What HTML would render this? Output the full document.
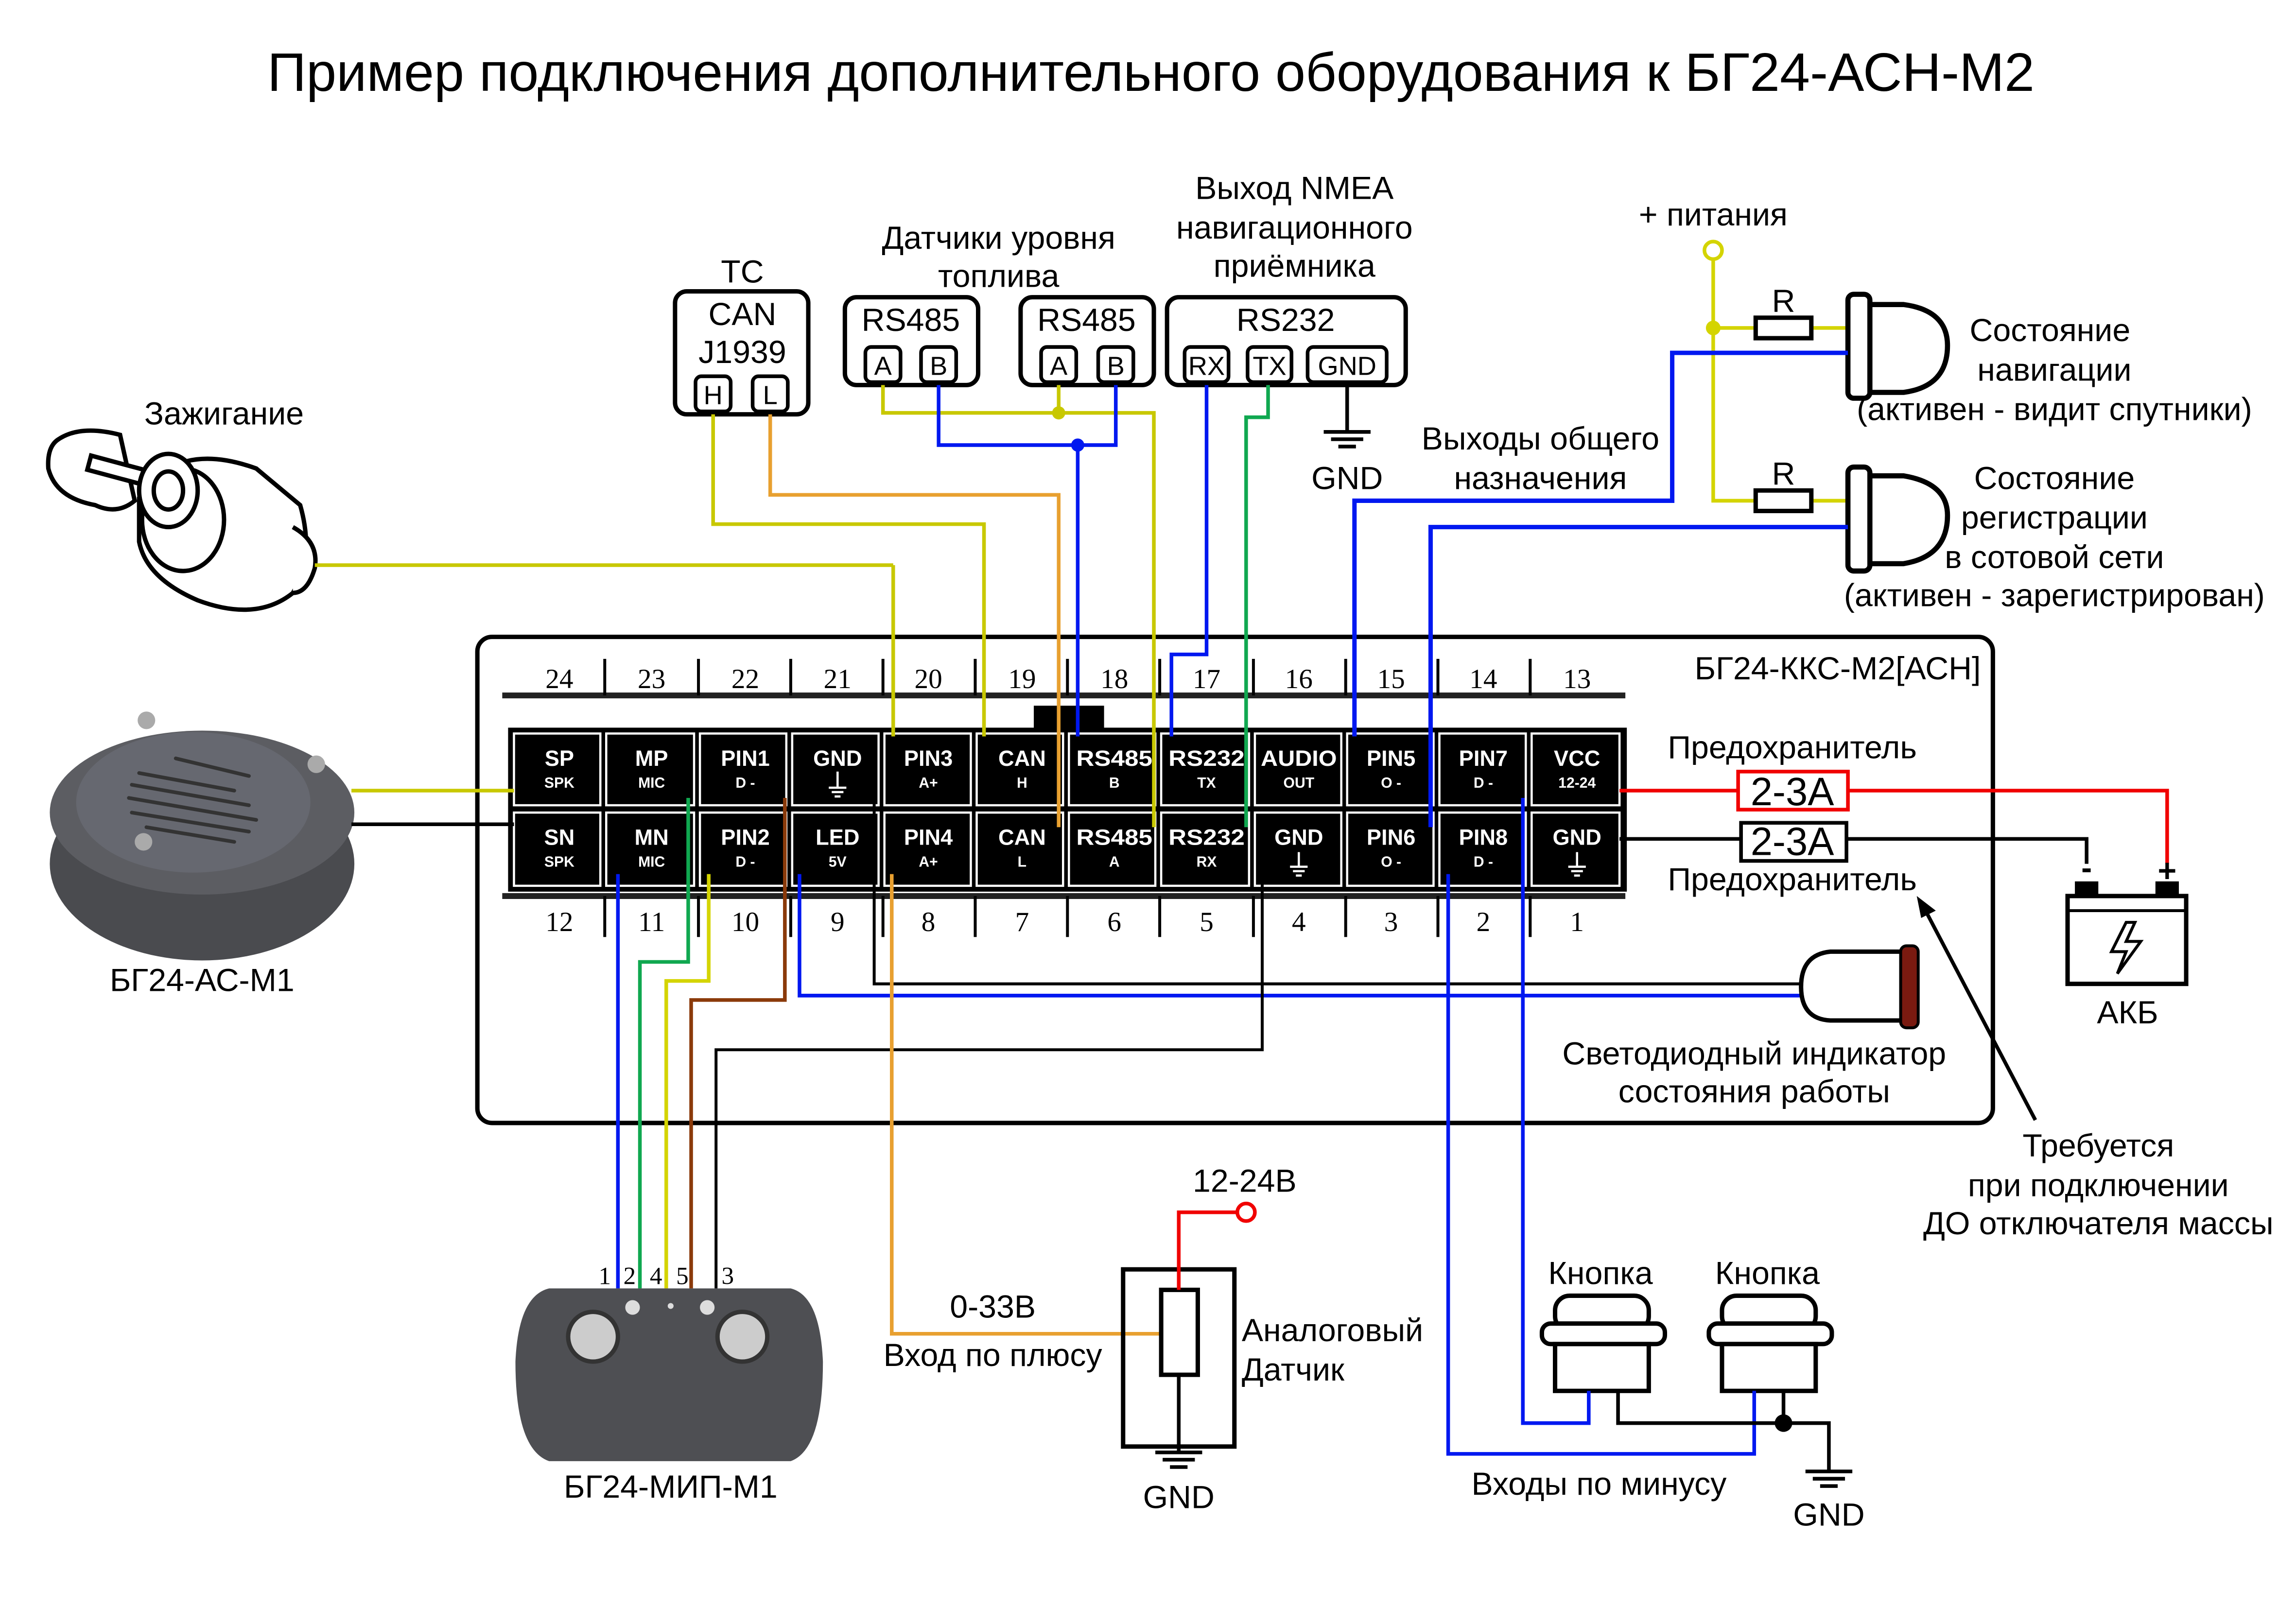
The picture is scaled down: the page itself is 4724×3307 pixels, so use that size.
<!DOCTYPE html>
<html><head><meta charset="utf-8"><style>
html,body{margin:0;padding:0;background:#fff;}
svg{display:block;}
text{font-family:"Liberation Sans","DejaVu Sans",sans-serif;}
.t{font-size:22px;fill:#000;text-anchor:middle;}
.n{font-family:"Liberation Serif",serif;font-size:19px;text-anchor:middle;}
.pw{fill:#fff;font-weight:bold;font-size:15px;text-anchor:middle;}
.ps{fill:#fff;font-weight:bold;font-size:10px;text-anchor:middle;}
</style></head><body>
<svg width="4724" height="3307" viewBox="0 0 1568 1097.6" preserveAspectRatio="none" xmlns="http://www.w3.org/2000/svg">
<rect width="1568" height="1098" fill="#fff"/>
<text x="786" y="62" style="font-size:37px;text-anchor:middle">Пример подключения дополнительного оборудования к БГ24-АСН-М2</text>

<!-- main box -->
<rect x="326" y="435" width="1035" height="332" rx="10" fill="none" stroke="#000" stroke-width="3"/>
<text x="1255" y="464" class="t">БГ24-ККС-М2[АСН]</text>

<!-- number rows -->
<line x1="343" y1="475" x2="1110" y2="475" stroke="#222" stroke-width="4"/>
<line x1="343" y1="612" x2="1110" y2="612" stroke="#222" stroke-width="4"/>
<g stroke="#000" stroke-width="2">
<line x1="413" y1="450" x2="413" y2="475"/><line x1="477" y1="450" x2="477" y2="475"/><line x1="540" y1="450" x2="540" y2="475"/><line x1="603" y1="450" x2="603" y2="475"/><line x1="666" y1="450" x2="666" y2="475"/><line x1="729" y1="450" x2="729" y2="475"/><line x1="792" y1="450" x2="792" y2="475"/><line x1="856" y1="450" x2="856" y2="475"/><line x1="919" y1="450" x2="919" y2="475"/><line x1="982" y1="450" x2="982" y2="475"/><line x1="1045" y1="450" x2="1045" y2="475"/>
<line x1="413" y1="612" x2="413" y2="640"/><line x1="477" y1="612" x2="477" y2="640"/><line x1="540" y1="612" x2="540" y2="640"/><line x1="603" y1="612" x2="603" y2="640"/><line x1="666" y1="612" x2="666" y2="640"/><line x1="729" y1="612" x2="729" y2="640"/><line x1="792" y1="612" x2="792" y2="640"/><line x1="856" y1="612" x2="856" y2="640"/><line x1="919" y1="612" x2="919" y2="640"/><line x1="982" y1="612" x2="982" y2="640"/><line x1="1045" y1="612" x2="1045" y2="640"/>
</g>
<g>
<text x="382" y="470" class="n">24</text><text x="445" y="470" class="n">23</text><text x="509" y="470" class="n">22</text><text x="572" y="470" class="n">21</text><text x="634" y="470" class="n">20</text><text x="698" y="470" class="n">19</text><text x="761" y="470" class="n">18</text><text x="824" y="470" class="n">17</text><text x="887" y="470" class="n">16</text><text x="950" y="470" class="n">15</text><text x="1013" y="470" class="n">14</text><text x="1077" y="470" class="n">13</text>
<text x="382" y="636" class="n">12</text><text x="445" y="636" class="n">11</text><text x="509" y="636" class="n">10</text><text x="572" y="636" class="n">9</text><text x="634" y="636" class="n">8</text><text x="698" y="636" class="n">7</text><text x="761" y="636" class="n">6</text><text x="824" y="636" class="n">5</text><text x="887" y="636" class="n">4</text><text x="950" y="636" class="n">3</text><text x="1013" y="636" class="n">2</text><text x="1077" y="636" class="n">1</text>
</g>

<!-- connector -->
<rect x="706" y="482" width="48" height="17" fill="#000"/>
<rect x="347" y="497" width="764" height="112" fill="#000"/>
<g fill="#000" stroke="#fff" stroke-width="1.5">
<rect x="351" y="501" width="59" height="49"/><rect x="414" y="501" width="60" height="49"/><rect x="478" y="501" width="59" height="49"/><rect x="541" y="501" width="59" height="49"/><rect x="604" y="501" width="59" height="49"/><rect x="667" y="501" width="59" height="49"/><rect x="730" y="501" width="59" height="49"/><rect x="793" y="501" width="60" height="49"/><rect x="857" y="501" width="59" height="49"/><rect x="920" y="501" width="59" height="49"/><rect x="983" y="501" width="59" height="49"/><rect x="1046" y="501" width="60" height="49"/>
<rect x="351" y="555" width="59" height="50"/><rect x="414" y="555" width="60" height="50"/><rect x="478" y="555" width="59" height="50"/><rect x="541" y="555" width="59" height="50"/><rect x="604" y="555" width="59" height="50"/><rect x="667" y="555" width="59" height="50"/><rect x="730" y="555" width="59" height="50"/><rect x="793" y="555" width="60" height="50"/><rect x="857" y="555" width="59" height="50"/><rect x="920" y="555" width="59" height="50"/><rect x="983" y="555" width="59" height="50"/><rect x="1046" y="555" width="60" height="50"/>
</g>
<g>
<text x="382" y="523" class="pw">SP</text><text x="382" y="538" class="ps">SPK</text>
<text x="445" y="523" class="pw">MP</text><text x="445" y="538" class="ps">MIC</text>
<text x="509" y="523" class="pw">PIN1</text><text x="509" y="538" class="ps">D -</text>
<text x="572" y="523" class="pw">GND</text>
<text x="634" y="523" class="pw">PIN3</text><text x="634" y="538" class="ps">A+</text>
<text x="698" y="523" class="pw">CAN</text><text x="698" y="538" class="ps">H</text>
<text x="761" y="523" class="pw" textLength="52" lengthAdjust="spacingAndGlyphs">RS485</text><text x="761" y="538" class="ps">B</text>
<text x="824" y="523" class="pw" textLength="52" lengthAdjust="spacingAndGlyphs">RS232</text><text x="824" y="538" class="ps">TX</text>
<text x="887" y="523" class="pw" textLength="52" lengthAdjust="spacingAndGlyphs">AUDIO</text><text x="887" y="538" class="ps">OUT</text>
<text x="950" y="523" class="pw">PIN5</text><text x="950" y="538" class="ps">O -</text>
<text x="1013" y="523" class="pw">PIN7</text><text x="1013" y="538" class="ps">D -</text>
<text x="1077" y="523" class="pw">VCC</text><text x="1077" y="538" class="ps">12-24</text>
<text x="382" y="577" class="pw">SN</text><text x="382" y="592" class="ps">SPK</text>
<text x="445" y="577" class="pw">MN</text><text x="445" y="592" class="ps">MIC</text>
<text x="509" y="577" class="pw">PIN2</text><text x="509" y="592" class="ps">D -</text>
<text x="572" y="577" class="pw">LED</text><text x="572" y="592" class="ps">5V</text>
<text x="634" y="577" class="pw">PIN4</text><text x="634" y="592" class="ps">A+</text>
<text x="698" y="577" class="pw">CAN</text><text x="698" y="592" class="ps">L</text>
<text x="761" y="577" class="pw" textLength="52" lengthAdjust="spacingAndGlyphs">RS485</text><text x="761" y="592" class="ps">A</text>
<text x="824" y="577" class="pw" textLength="52" lengthAdjust="spacingAndGlyphs">RS232</text><text x="824" y="592" class="ps">RX</text>
<text x="887" y="577" class="pw">GND</text>
<text x="950" y="577" class="pw">PIN6</text><text x="950" y="592" class="ps">O -</text>
<text x="1013" y="577" class="pw">PIN8</text><text x="1013" y="592" class="ps">D -</text>
<text x="1077" y="577" class="pw">GND</text>
</g>
<g stroke="#fff" stroke-width="1.5">
<line x1="572" y1="527" x2="572" y2="538"/><line x1="566" y1="538" x2="578" y2="538"/><line x1="568" y1="541" x2="576" y2="541"/><line x1="570" y1="544" x2="574" y2="544"/>
<line x1="887" y1="582" x2="887" y2="592"/><line x1="881" y1="592" x2="893" y2="592"/><line x1="883" y1="595" x2="891" y2="595"/><line x1="885" y1="598" x2="889" y2="598"/>
<line x1="1077" y1="582" x2="1077" y2="592"/><line x1="1071" y1="592" x2="1083" y2="592"/><line x1="1073" y1="595" x2="1081" y2="595"/><line x1="1075" y1="598" x2="1079" y2="598"/>
</g>

<!-- ignition -->
<text x="153" y="290" class="t">Зажигание</text>
<g stroke="#000" stroke-width="3" fill="#fff">
<path d="M95 340 Q120 300 175 320 L205 345 Q215 380 200 405 Q175 425 135 410 Q100 395 95 370 Z"/>
<ellipse cx="125" cy="355" rx="28" ry="35"/>
<path d="M40 300 Q55 290 82 297 L92 342 Q80 352 65 345 Q38 340 33 320 Q32 305 40 300 Z"/>
<rect x="60" y="318" width="55" height="10" transform="rotate(15 87 323)"/>
<ellipse cx="115" cy="335" rx="20" ry="25"/>
<ellipse cx="115" cy="335" rx="10" ry="13"/>
<path d="M200 360 Q218 370 215 388 Q210 405 200 405"/>
</g>
<line x1="215" y1="386" x2="610" y2="386" stroke="#c8c800" stroke-width="2.5"/>
<line x1="610" y1="386" x2="610" y2="503" stroke="#c8c800" stroke-width="2.5"/>

<!-- speaker -->
<ellipse cx="138" cy="590" rx="104" ry="66" fill="#4a4b4f"/>
<ellipse cx="138" cy="555" rx="104" ry="56" fill="#5c5d62"/>
<ellipse cx="132" cy="548" rx="80" ry="48" fill="#666870"/>
<g stroke="#333" stroke-width="2.5" stroke-linecap="round">
<line x1="95" y1="528" x2="160" y2="540"/><line x1="90" y1="536" x2="170" y2="550"/><line x1="88" y1="545" x2="175" y2="560"/><line x1="90" y1="555" x2="170" y2="568"/><line x1="100" y1="565" x2="160" y2="575"/><line x1="120" y1="518" x2="170" y2="530"/>
</g>
<circle cx="100" cy="492" r="6" fill="#aaa"/><circle cx="216" cy="522" r="6" fill="#aaa"/><circle cx="98" cy="575" r="6" fill="#aaa"/>
<text x="138" y="677" class="t">БГ24-АС-М1</text>
<line x1="240" y1="540" x2="351" y2="540" stroke="#c8c800" stroke-width="2.5"/>
<line x1="240" y1="563" x2="351" y2="563" stroke="#000" stroke-width="2.5"/>

<!-- TC CAN -->
<text x="507" y="193" class="t">ТС</text>
<rect x="461" y="199" width="91" height="84" rx="8" fill="none" stroke="#000" stroke-width="3"/>
<text x="507" y="222" class="t">CAN</text>
<text x="507" y="248" class="t">J1939</text>
<rect x="475" y="257" width="24" height="24" rx="4" fill="none" stroke="#000" stroke-width="2.5"/>
<rect x="514" y="257" width="24" height="24" rx="4" fill="none" stroke="#000" stroke-width="2.5"/>
<text x="487" y="276" class="t" style="font-size:18px">H</text>
<text x="526" y="276" class="t" style="font-size:18px">L</text>
<polyline points="487,283 487,358 672,358 672,503" fill="none" stroke="#c8c800" stroke-width="2.5"/>
<polyline points="526,283 526,338 723,338 723,565" fill="none" stroke="#e8a030" stroke-width="2.5"/>

<!-- fuel sensors -->
<text x="682" y="170" class="t">Датчики уровня</text>
<text x="682" y="196" class="t">топлива</text>
<rect x="577" y="203" width="91" height="60" rx="8" fill="none" stroke="#000" stroke-width="3"/>
<rect x="697" y="203" width="91" height="60" rx="8" fill="none" stroke="#000" stroke-width="3"/>
<text x="622" y="226" class="t">RS485</text><text x="742" y="226" class="t">RS485</text>
<g fill="none" stroke="#000" stroke-width="2.5">
<rect x="591" y="237" width="24" height="24" rx="4"/><rect x="629" y="237" width="24" height="24" rx="4"/>
<rect x="711" y="237" width="24" height="24" rx="4"/><rect x="750" y="237" width="24" height="24" rx="4"/>
</g>
<text x="603" y="256" class="t" style="font-size:18px">A</text><text x="641" y="256" class="t" style="font-size:18px">B</text>
<text x="723" y="256" class="t" style="font-size:18px">A</text><text x="762" y="256" class="t" style="font-size:18px">B</text>
<polyline points="603,263 603,282 788,282 788,565" fill="none" stroke="#c8c800" stroke-width="2.5"/>
<line x1="723" y1="263" x2="723" y2="282" stroke="#c8c800" stroke-width="2.5"/>
<circle cx="723" cy="282" r="4.5" fill="#c8c800"/>
<polyline points="641,263 641,304 762,304 762,263" fill="none" stroke="#0018f0" stroke-width="2.5"/>
<line x1="736" y1="304" x2="736" y2="503" stroke="#0018f0" stroke-width="2.5"/>
<circle cx="736" cy="304" r="4.5" fill="#0018f0"/>

<!-- RS232 -->
<text x="884" y="136" class="t">Выход NMEA</text>
<text x="884" y="163" class="t">навигационного</text>
<text x="884" y="189" class="t">приёмника</text>
<rect x="797" y="203" width="163" height="60" rx="8" fill="none" stroke="#000" stroke-width="3"/>
<text x="878" y="226" class="t">RS232</text>
<g fill="none" stroke="#000" stroke-width="2.5">
<rect x="809" y="237" width="30" height="24" rx="4"/><rect x="852" y="237" width="30" height="24" rx="4"/><rect x="893" y="237" width="54" height="24" rx="4"/>
</g>
<text x="824" y="256" class="t" style="font-size:18px">RX</text><text x="867" y="256" class="t" style="font-size:18px">TX</text><text x="920" y="256" class="t" style="font-size:18px">GND</text>
<polyline points="824,263 824,447 800,447 800,503" fill="none" stroke="#0018f0" stroke-width="2.5"/>
<polyline points="866,263 866,285 851,285 851,565" fill="none" stroke="#10a850" stroke-width="2.5"/>
<g stroke="#000" stroke-width="2.5"><line x1="920" y1="263" x2="920" y2="295"/><line x1="904" y1="295" x2="936" y2="295"/><line x1="909" y1="300" x2="931" y2="300"/><line x1="914" y1="305" x2="926" y2="305"/></g>
<text x="920" y="334" class="t">GND</text>

<!-- outputs -->
<text x="1170" y="154" class="t">+ питания</text>
<circle cx="1170" cy="171" r="6" fill="none" stroke="#d4d400" stroke-width="2.5"/>
<polyline points="1170,177 1170,342 1200,342" fill="none" stroke="#d4d400" stroke-width="2.5"/>
<line x1="1170" y1="224" x2="1200" y2="224" stroke="#d4d400" stroke-width="2.5"/>
<circle cx="1170" cy="224" r="5" fill="#d4d400"/>
<line x1="1236" y1="224" x2="1262" y2="224" stroke="#d4d400" stroke-width="2.5"/>
<line x1="1236" y1="342" x2="1262" y2="342" stroke="#d4d400" stroke-width="2.5"/>
<rect x="1199" y="217" width="38" height="14" fill="#fff" stroke="#000" stroke-width="3"/>
<rect x="1199" y="335" width="38" height="14" fill="#fff" stroke="#000" stroke-width="3"/>
<text x="1218" y="213" class="t">R</text><text x="1218" y="331" class="t">R</text>
<g fill="#fff" stroke="#000" stroke-width="3.5">
<path d="M1277 208 H1300 Q1330 212 1330 236 Q1330 264 1300 268 H1277"/>
<rect x="1262" y="201" width="15" height="71" rx="4"/>
<path d="M1277 325 H1300 Q1330 330 1330 352 Q1330 380 1300 385 H1277"/>
<rect x="1262" y="319" width="15" height="71" rx="4"/>
</g>
<polyline points="1262,241 1142,241 1142,342 925,342 925,503" fill="none" stroke="#0018f0" stroke-width="3"/>
<polyline points="1262,360 977,360 977,565" fill="none" stroke="#0018f0" stroke-width="3"/>
<text x="1052" y="307" class="t">Выходы общего</text>
<text x="1052" y="334" class="t">назначения</text>
<text x="1400" y="233" class="t">Состояние</text>
<text x="1403" y="260" class="t">навигации</text>
<text x="1403" y="287" class="t">(активен - видит спутники)</text>
<text x="1403" y="334" class="t">Состояние</text>
<text x="1403" y="361" class="t">регистрации</text>
<text x="1403" y="388" class="t">в сотовой сети</text>
<text x="1403" y="414" class="t">(активен - зарегистрирован)</text>

<!-- power -->
<polyline points="1106,540 1480,540 1480,590" fill="none" stroke="#f00000" stroke-width="2.5"/>
<polyline points="1106,573 1425,573 1425,590" fill="none" stroke="#000" stroke-width="2.5"/>
<rect x="1187" y="527" width="75" height="26" fill="#fff" stroke="#f00000" stroke-width="2.5"/>
<rect x="1189" y="562" width="72" height="26" fill="#fff" stroke="#000" stroke-width="2.5"/>
<text x="1224" y="550" class="t" style="font-size:27px">2-3A</text>
<text x="1224" y="584" class="t" style="font-size:27px">2-3A</text>
<text x="1224" y="518" class="t">Предохранитель</text>
<text x="1224" y="608" class="t">Предохранитель</text>
<rect x="1417" y="602" width="16" height="10" fill="#000"/><rect x="1472" y="602" width="16" height="10" fill="#000"/>
<rect x="1412" y="612" width="81" height="60" fill="#fff" stroke="#000" stroke-width="3"/>
<line x1="1412" y1="622" x2="1493" y2="622" stroke="#000" stroke-width="2"/>
<text x="1425" y="600" class="t" style="font-size:22px;font-weight:bold">-</text>
<text x="1480" y="602" class="t" style="font-size:22px;font-weight:bold">+</text>
<path d="M1452 630 L1442 650 L1452 650 L1446 665 L1462 643 L1452 643 L1458 630 Z" fill="none" stroke="#000" stroke-width="2"/>
<text x="1453" y="699" class="t">АКБ</text>
<line x1="1390" y1="765" x2="1315" y2="622" stroke="#000" stroke-width="2.5"/>
<path d="M1309 612 L1322 622 L1312 627 Z" fill="#000"/>
<text x="1433" y="790" class="t">Требуется</text>
<text x="1433" y="817" class="t">при подключении</text>
<text x="1433" y="843" class="t">ДО отключателя массы</text>

<!-- status LED -->
<polyline points="546,597 546,680 1232,680" fill="none" stroke="#0018f0" stroke-width="2.5"/>
<polyline points="597,545 597,672 1232,672" fill="none" stroke="#000" stroke-width="2"/>
<path d="M1300 650 H1250 Q1230 652 1230 674 Q1230 696 1250 697 H1300 Z" fill="#fff" stroke="#000" stroke-width="3"/>
<rect x="1298" y="646" width="12" height="56" rx="4" fill="#7a1a10" stroke="#000" stroke-width="2"/>
<text x="1198" y="727" class="t">Светодиодный индикатор</text>
<text x="1198" y="753" class="t">состояния работы</text>

<!-- MIP wires -->
<line x1="422" y1="597" x2="422" y2="880" stroke="#0018f0" stroke-width="2.5"/>
<polyline points="470,545 470,657 437,657 437,880" fill="none" stroke="#10a850" stroke-width="2.5"/>
<polyline points="484,597 484,670 455,670 455,880" fill="none" stroke="#d4d400" stroke-width="2.5"/>
<polyline points="536,545 536,683 472,683 472,880" fill="none" stroke="#8b3a0a" stroke-width="2.5"/>
<polyline points="862,597 862,717 489,717 489,880" fill="none" stroke="#000" stroke-width="2"/>
<text x="413" y="877" class="n" style="font-size:17px">1</text><text x="430" y="877" class="n" style="font-size:17px">2</text><text x="448" y="877" class="n" style="font-size:17px">4</text><text x="466" y="877" class="n" style="font-size:17px">5</text><text x="497" y="877" class="n" style="font-size:17px">3</text>
<path d="M375 880 H540 Q560 885 562 930 Q562 990 540 998 H375 Q352 990 352 930 Q354 885 375 880 Z" fill="#4e4f53"/>
<circle cx="405" cy="913" r="17" fill="#ccc" stroke="#333" stroke-width="3"/>
<circle cx="507" cy="913" r="17" fill="#ccc" stroke="#333" stroke-width="3"/>
<circle cx="432" cy="893" r="5" fill="#ddd"/><circle cx="483" cy="893" r="5" fill="#ddd"/><circle cx="458" cy="892" r="2" fill="#ddd"/>
<text x="458" y="1023" class="t">БГ24-МИП-М1</text>

<!-- analog sensor -->
<polyline points="609,597 609,911 793,911" fill="none" stroke="#e8a030" stroke-width="2.5"/>
<text x="678" y="900" class="t">0-33В</text>
<text x="678" y="933" class="t">Вход по плюсу</text>
<rect x="767" y="867" width="76" height="121" fill="none" stroke="#000" stroke-width="3"/>
<rect x="793" y="881" width="25" height="58" fill="#fff" stroke="#000" stroke-width="3"/>
<polyline points="805,881 805,828 845,828" fill="none" stroke="#f00000" stroke-width="2.5"/>
<circle cx="851" cy="828" r="6" fill="#fff" stroke="#f00000" stroke-width="2.5"/>
<text x="850" y="814" class="t">12-24В</text>
<g stroke="#000" stroke-width="2.5"><line x1="805" y1="939" x2="805" y2="992"/><line x1="789" y1="992" x2="821" y2="992"/><line x1="794" y1="997" x2="816" y2="997"/><line x1="799" y1="1002" x2="811" y2="1002"/></g>
<text x="805" y="1030" class="t">GND</text>
<text x="848" y="916" style="font-size:22px">Аналоговый</text>
<text x="848" y="943" style="font-size:22px">Датчик</text>

<!-- buttons -->
<text x="1093" y="877" class="t">Кнопка</text><text x="1207" y="877" class="t">Кнопка</text>
<g fill="#fff" stroke="#000" stroke-width="3">
<rect x="1062" y="885" width="64" height="24" rx="10"/><rect x="1053" y="904" width="84" height="14" rx="6"/><rect x="1062" y="918" width="64" height="32"/>
<rect x="1176" y="885" width="64" height="24" rx="10"/><rect x="1167" y="904" width="84" height="14" rx="6"/><rect x="1176" y="918" width="64" height="32"/>
</g>
<polyline points="989,597 989,993 1198,993 1198,950" fill="none" stroke="#0018f0" stroke-width="2.5"/>
<polyline points="1040,545 1040,972 1085,972 1085,950" fill="none" stroke="#0018f0" stroke-width="2.5"/>
<polyline points="1105,950 1105,972 1249,972 1249,1005" fill="none" stroke="#000" stroke-width="2.5"/>
<line x1="1218" y1="950" x2="1218" y2="972" stroke="#000" stroke-width="2.5"/>
<circle cx="1218" cy="972" r="6" fill="#000"/>
<g stroke="#000" stroke-width="2.5"><line x1="1233" y1="1005" x2="1265" y2="1005"/><line x1="1238" y1="1010" x2="1260" y2="1010"/><line x1="1243" y1="1015" x2="1255" y2="1015"/></g>
<text x="1249" y="1042" class="t">GND</text>
<text x="1092" y="1021" class="t">Входы по минусу</text>
</svg>
</body></html>
